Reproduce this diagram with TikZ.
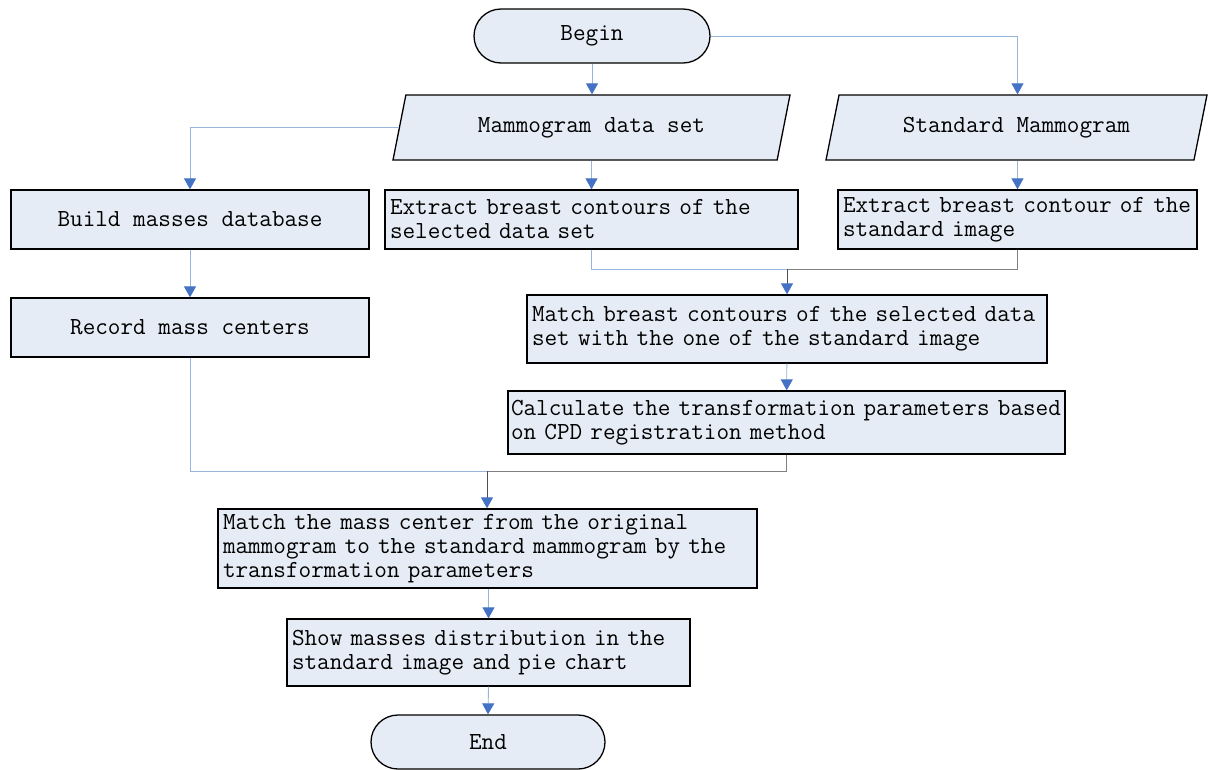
\documentclass[tikz,border=0pt]{standalone}
\usepackage{fontspec}
\usepackage{tikz}
\usetikzlibrary{shapes.geometric,arrows.meta,calc}

\definecolor{boxfill}{RGB}{230,236,246}
\definecolor{tipblue}{RGB}{68,114,196}
\definecolor{linelight}{RGB}{150,182,222}
\definecolor{linegray}{RGB}{128,128,128}
\definecolor{linedark}{RGB}{80,80,80}

\begin{document}
\begin{tikzpicture}[x=1pt,y=-1pt,
  every node/.style={font=\ttfamily\fontsize{24.5}{24}\selectfont},
  term/.style={draw=black,line width=1.3pt,fill=boxfill,rounded corners=27pt,
    minimum height=54pt,inner sep=0pt},
  proc/.style={draw=black,line width=1.3pt,fill=boxfill,inner xsep=5pt,inner ysep=0pt},
  iobox/.style={draw=black,line width=1.3pt,fill=boxfill,trapezium,
    trapezium left angle=58,trapezium right angle=122,trapezium stretches body,
    minimum height=65pt,inner sep=0pt},
  flow/.style={line width=0.9pt,-{Triangle[width=12pt,length=11pt,color=tipblue]}}]
\useasboundingbox (0,0) rectangle (1208,769);

% start
\node[term,minimum width=236pt] (begin) at (592,36) {Begin};

% inputs
\node[iobox,minimum width=397pt] (mds) at (591.5,127.5) {Mammogram data set};
\node[iobox,minimum width=381pt] (std) at (1016.5,127.5) {Standard Mammogram};

% first row
\node[proc,minimum width=358pt,minimum height=59pt] (build) at (190,219.5) {Build masses database};
\node[proc,text width=403pt,minimum height=59pt,align=left] (ext) at (591.5,219.5)
  {Extract breast contours of the\\selected data set};
\node[proc,text width=349pt,minimum height=59pt,align=left] (exts) at (1017.5,219.5)
  {Extract breast contour of the\\standard image};

% second row
\node[proc,minimum width=358pt,minimum height=59pt] (record) at (190,327.5) {Record mass centers};
\node[proc,text width=510pt,minimum height=68pt,align=left] (match) at (787,329)
  {Match breast contours of the selected data\\set with the one of the standard image};
\node[proc,inner xsep=3pt,text width=551pt,minimum height=63pt,align=left] (calc) at (786.5,422.5)
  {Calculate the transformation parameters based\\on CPD registration method};

% lower part
\node[proc,text width=529pt,minimum height=79pt,align=left] (mmc) at (487.5,548.5)
  {Match the mass center from the original\\mammogram to the standard mammogram by the\\transformation parameters};
\node[proc,text width=393pt,minimum height=67pt,align=left] (show) at (488.5,652.5)
  {Show masses distribution in the\\standard image and pie chart};
\node[term,minimum width=234pt] (end) at (488,742) {End};

% joins
\coordinate (j1) at (787,269);
\coordinate (j2) at (487,471);

% connectors
\draw[flow,linelight] (begin) -- (begin |- mds.top side);
\draw[flow,linelight] (begin.east) -| (exts.north |- std.top side);
\draw[flow,linelight] (mds.left side) -| (build.north);
\draw[flow,linelight] (ext.north |- mds.bottom side) -- (ext.north);
\draw[flow,linelight] (exts.north |- std.bottom side) -- (exts.north);
\draw[flow,linelight] (build) -- (record);

\draw[line width=0.9pt,linelight] (ext.south) |- (j1);
\draw[line width=0.9pt,linegray] (exts.south) |- (j1);
\draw[flow,linedark] (j1) -- (match.north);
\draw[flow,linelight] (match) -- (calc);

\draw[line width=0.9pt,linelight] (record.south) |- (j2);
\draw[line width=0.9pt,linegray] (calc.south) |- (j2);
\draw[flow,linedark] (j2) -- (j2 |- mmc.north);
\draw[flow,linelight] (mmc.south -| show) -- (show.north);
\draw[flow,linelight] (show.south) -- (end.north);
\end{tikzpicture}
\end{document}
